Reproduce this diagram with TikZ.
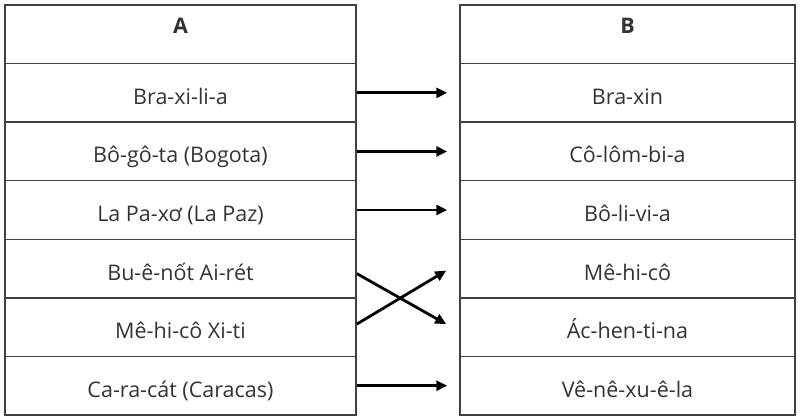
\documentclass[tikz,border=0pt]{standalone}
\usepackage{fontspec}
\setmainfont{Open Sans}
\usetikzlibrary{arrows.meta}
\begin{document}
\begin{tikzpicture}[x=1pt,y=-1pt,
    cell/.style={draw=black!75,line width=1.5pt,minimum height=58.6pt,inner sep=0pt,
      text=black!80,font=\fontsize{21.5}{25}\selectfont,text height=23pt,text depth=0pt},
    head/.style={text height=0pt,text depth=2pt},
    link/.style={-{Triangle[length=11pt,width=10pt]},line width=2.8pt}]
  \useasboundingbox (0,0) rectangle (801,419);
  \node[cell,head,minimum width=351pt](A0) at (180.5,34.3) {\textbf{A}};
  \node[cell,head,minimum width=335pt](B0) at (627.5,34.3) {\textbf{B}};
  \foreach \i/\a/\b in {1/Bra-xi-li-a/Bra-xin,
      2/Bô-gô-ta (Bogota)/Cô-lôm-bi-a,
      3/La Pa-xơ (La Paz)/Bô-li-vi-a,
      4/Bu-ê-nốt Ai-rét/Mê-hi-cô,
      5/Mê-hi-cô Xi-ti/Ác-hen-ti-na,
      6/Ca-ra-cát (Caracas)/Vê-nê-xu-ê-la}{
    \node[cell,minimum width=351pt](A\i) at (180.5,34.3+58.57*\i) {\a};
    \node[cell,minimum width=335pt](B\i) at (627.5,34.3+58.57*\i) {\b};
  }
  \foreach \x/\y in {A1/B1,A2/B2,A3/B3,A6/B6}{
    \draw[link](\x.east)--([xshift=-12pt]\y.west);
  }
  \draw[link]([yshift=-5pt]A4.east)--([xshift=-13pt,yshift=3pt]B5.west);
  \draw[link]([yshift=3pt]A5.east)--([xshift=-13pt,yshift=-2pt]B4.west);
\end{tikzpicture}
\end{document}
